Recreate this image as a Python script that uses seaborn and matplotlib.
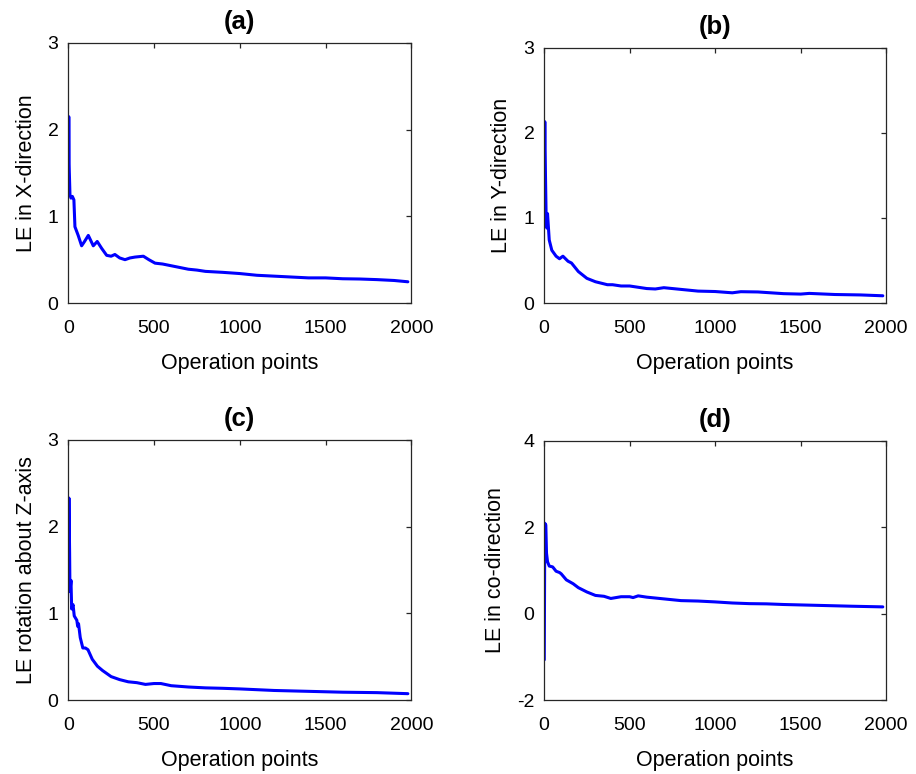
import pandas as pd
import matplotlib
matplotlib.use("Agg")
import matplotlib.pyplot as plt
import seaborn as sns

# values (operation point, LE value)
x_a = [1, 3, 5, 10, 16, 24, 33, 39, 58, 78, 95, 117, 146, 169, 195, 224, 250, 272,
       300, 331, 360, 389, 438, 470, 506, 550, 600, 650, 700, 750, 800, 900, 1000,
       1100, 1200, 1300, 1400, 1500, 1600, 1700, 1800, 1900, 1980]
le_x = [1.37, 2.15, 1.6, 1.25, 1.21, 1.23, 1.19, 0.88, 0.78, 0.66, 0.71, 0.78, 0.66,
        0.71, 0.63, 0.55, 0.54, 0.56, 0.52, 0.50, 0.52, 0.53, 0.54, 0.50, 0.46, 0.45,
        0.43, 0.41, 0.39, 0.38, 0.365, 0.354, 0.34, 0.32, 0.31, 0.30, 0.29, 0.29, 0.28,
        0.277, 0.27, 0.26, 0.245]

x_b = [1, 4, 8, 12, 16, 20, 30, 45, 70, 90, 110, 140, 160, 200, 250, 300, 370, 400,
       450, 500, 600, 650, 700, 750, 900, 1000, 1100, 1150, 1250, 1400, 1500, 1550,
       1700, 1850, 1980]
le_y = [1.6, 2.13, 1.5, 1.0, 0.88, 1.05, 0.74, 0.62, 0.55, 0.52, 0.55, 0.49, 0.47,
        0.37, 0.29, 0.25, 0.215, 0.215, 0.2, 0.2, 0.17, 0.165, 0.18, 0.17, 0.14, 0.135,
        0.12, 0.133, 0.13, 0.11, 0.105, 0.113, 0.10, 0.095, 0.085]

x_c = [1, 4, 8, 10, 16, 20, 28, 35, 50, 55, 60, 70, 85, 100, 115, 140, 170, 200, 250,
       300, 350, 400, 450, 500, 540, 600, 700, 800, 900, 1000, 1200, 1400, 1600, 1800,
       1980]
le_rz = [1.6, 2.33, 1.7, 1.25, 1.38, 1.05, 1.1, 0.97, 0.92, 0.85, 0.88, 0.72, 0.60,
         0.60, 0.58, 0.47, 0.39, 0.34, 0.27, 0.235, 0.21, 0.2, 0.18, 0.19, 0.19, 0.165,
         0.15, 0.14, 0.135, 0.128, 0.11, 0.10, 0.09, 0.085, 0.073]

x_d = [1, 4, 10, 14, 20, 30, 50, 70, 90, 100, 130, 170, 200, 250, 300, 350, 390, 450,
       500, 520, 550, 600, 700, 800, 900, 1000, 1100, 1200, 1300, 1400, 1600, 1800,
       1980]
le_co = [-1.07, 2.09, 2.05, 1.4, 1.2, 1.1, 1.08, 0.98, 0.95, 0.92, 0.78, 0.69, 0.6,
         0.5, 0.42, 0.40, 0.35, 0.39, 0.39, 0.37, 0.41, 0.38, 0.34, 0.30, 0.29, 0.27,
         0.245, 0.23, 0.225, 0.21, 0.19, 0.17, 0.155]

panels = [
    ("(a)", "LE in X-direction", x_a, le_x, (0, 3), [0, 1, 2, 3]),
    ("(b)", "LE in Y-direction", x_b, le_y, (0, 3), [0, 1, 2, 3]),
    ("(c)", "LE rotation about Z-axis", x_c, le_rz, (0, 3), [0, 1, 2, 3]),
    ("(d)", "LE in co-direction", x_d, le_co, (-2, 4), [-2, 0, 2, 4]),
]

# axes rectangles in figure fractions
rects = [
    [0.0745, 0.6085, 0.3745, 0.336],
    [0.594, 0.6085, 0.3735, 0.330],
    [0.0745, 0.0956, 0.3745, 0.336],
    [0.594, 0.0956, 0.3735, 0.335],
]

sns.set_style("white")
plt.rcParams["font.family"] = ["Liberation Sans", "DejaVu Sans"]
plt.rcParams["axes.edgecolor"] = "#262626"
plt.rcParams["axes.linewidth"] = 0.9
plt.rcParams["text.color"] = "black"
plt.rcParams["axes.labelcolor"] = "black"
plt.rcParams["axes.unicode_minus"] = False

fig = plt.figure(figsize=(9.16, 7.74), dpi=100)

for (title, ylabel, xs, ys, ylim, yticks), rect in zip(panels, rects):
    ax = fig.add_axes(rect)
    df = pd.DataFrame({"x": xs, "y": ys})
    sns.lineplot(data=df, x="x", y="y", ax=ax, color="#0000ff", linewidth=2.2,
                 estimator=None, sort=False)
    ax.set_xlim(0, 2000)
    ax.set_ylim(*ylim)
    ax.set_xticks([0, 500, 1000, 1500, 2000])
    ax.set_yticks(yticks)
    ax.tick_params(direction="in", top=True, right=True, length=3.5, width=0.9,
                   color="#262626", labelsize=14, labelcolor="black")
    ax.tick_params(axis="x", pad=12.5)
    ax.tick_params(axis="y", pad=7)
    ax.set_xlabel("Operation points", fontsize=15.5, labelpad=11)
    ax.set_ylabel(ylabel, fontsize=15.5, labelpad=8)
    ax.set_title(title, fontsize=18.5, fontweight="bold", pad=10)
    for s in ax.spines.values():
        s.set_visible(True)

fig.savefig("out.png", dpi=100, facecolor="white")
